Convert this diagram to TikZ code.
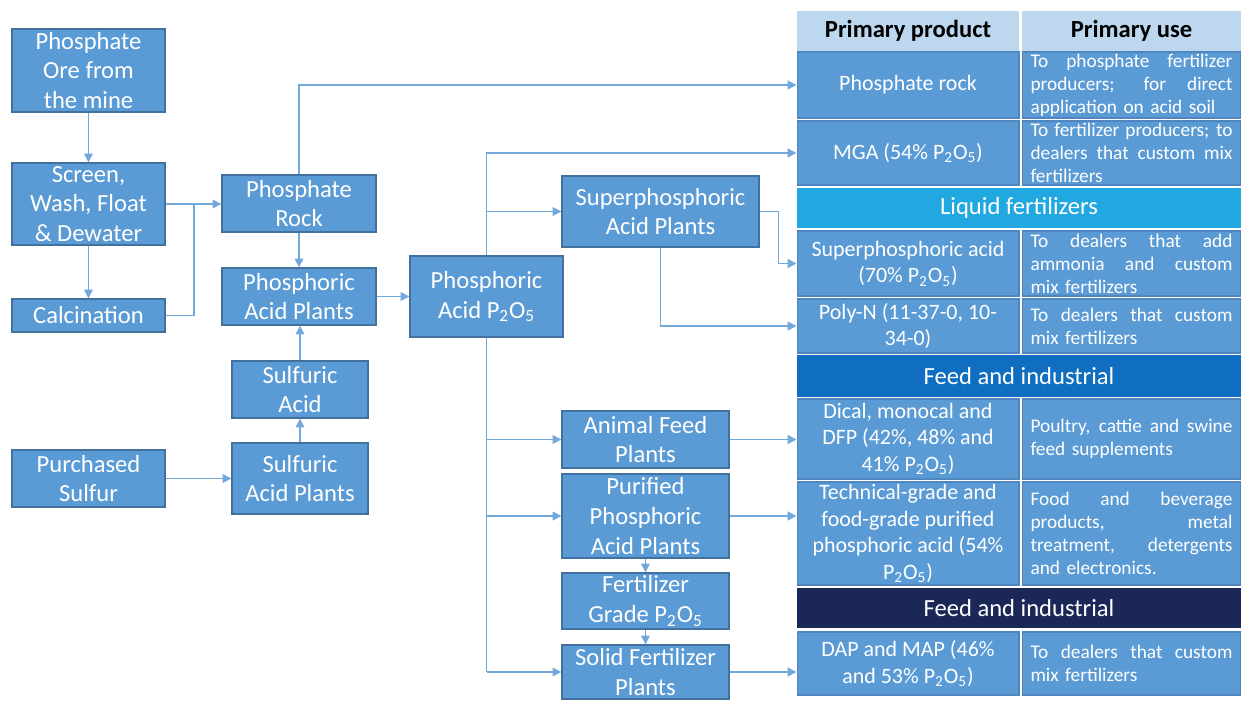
\documentclass[tikz,border=0pt]{standalone}
\usepackage{fontspec}
\setmainfont{Carlito}
\usetikzlibrary{arrows.meta}
\definecolor{boxfill}{HTML}{5B9BD5}
\definecolor{boxline}{HTML}{41719C}
\definecolor{cellline}{HTML}{4F86BF}
\definecolor{hdrfill}{HTML}{BDD7EE}
\definecolor{liqfill}{HTML}{22A8E0}
\definecolor{feedfill}{HTML}{0F6EBF}
\definecolor{navyfill}{HTML}{1B2857}
\definecolor{arrcol}{HTML}{72A8DC}
\newcommand{\pfo}{P\textsubscript{2}O\textsubscript{5}}
\newcommand{\jline}[1]{\leavevmode\hbox to 4.04cm{\spaceskip=0.25em plus 1fil\relax #1}}
\begin{document}
\begin{tikzpicture}[x=0.02cm,y=-0.02cm,
  box/.style={draw=boxline, line width=0.8pt, fill=boxfill, text=white, inner sep=0pt, align=center, font=\fontsize{14}{17}\selectfont},
  lcell/.style={draw=cellline, line width=0.6pt, fill=boxfill, text=white, inner sep=0pt, align=center, minimum width=4.44cm, font=\fontsize{12.5}{15.2}\selectfont},
  rcell/.style={draw=cellline, line width=0.6pt, fill=boxfill, text=white, inner sep=0pt, align=left, text width=4.04cm, minimum width=4.38cm, font=\fontsize{11}{13.1}\selectfont},
  band/.style={fill=#1, text=white, inner sep=0pt, minimum width=8.88cm, font=\fontsize{14}{17}\selectfont},
  hdr/.style={fill=hdrfill, text=black, inner sep=0pt, minimum height=0.8cm, font=\bfseries\fontsize{14}{17}\selectfont},
  arr/.style={draw=arrcol, line width=0.9pt, -{Triangle[length=5pt,width=5pt]}},
  ln/.style={draw=arrcol, line width=0.9pt}]
\useasboundingbox (0,0) rectangle (1241,700);
\clip (0,0) rectangle (1241,700);

% left flow boxes
\node[box, minimum width=3.06cm, minimum height=1.66cm] (ore) at (88.5,70.5) {Phosphate\\Ore from\\the mine};
\node[box, minimum width=3.06cm, minimum height=1.64cm] (scr) at (88.5,204) {Screen,\\Wash, Float\\\& Dewater};
\node[box, minimum width=3.06cm, minimum height=0.66cm] (calc) at (88.5,315.5) {Calcination};
\node[box, minimum width=3.06cm, minimum height=1.14cm] (ps) at (88.5,478.5) {Purchased\\Sulfur};
\node[box, minimum width=3.08cm, minimum height=1.14cm] (prock) at (299,203.5) {Phosphate\\Rock};
\node[box, minimum width=3.08cm, minimum height=1.14cm] (pap) at (299,296.5) {Phosphoric\\Acid Plants};
\node[box, minimum width=2.72cm, minimum height=1.14cm] (sa) at (300,389.5) {Sulfuric\\Acid};
\node[box, minimum width=2.72cm, minimum height=1.42cm] (sap) at (300,478.5) {Sulfuric\\Acid Plants};
\node[box, minimum width=3.06cm, minimum height=1.62cm] (pa) at (486.5,296.5) {Phosphoric\\Acid \pfo};
\node[box, minimum width=3.94cm, minimum height=1.42cm] (spa) at (660.5,211.5) {Superphosphoric\\Acid Plants};
\node[box, minimum width=3.34cm, minimum height=1.14cm] (afp) at (645.5,439.5) {Animal Feed\\Plants};
\node[box, minimum width=3.34cm, minimum height=1.68cm] (pur) at (645.5,516) {Purified\\Phosphoric\\Acid Plants};
\node[box, minimum width=3.34cm, minimum height=1.12cm] (fg) at (645.5,601) {Fertilizer\\Grade \pfo};
\node[box, minimum width=3.34cm, minimum height=1.08cm] (sfp) at (645.5,672) {Solid Fertilizer\\Plants};

% table
\node[hdr, minimum width=4.44cm] (h1) at (908,31) {Primary product};
\node[hdr, minimum width=4.38cm] (h2) at (1131.5,31) {Primary use};

\node[lcell, minimum height=1.32cm] (prc) at (908,85) {Phosphate rock};
\node[rcell, minimum height=1.32cm] (pru) at (1131.5,85) {\jline{To phosphate fertilizer}\\\jline{producers; for direct}\\application on acid soil};

\node[lcell, minimum height=1.28cm] (mga) at (908,153) {MGA (54\% \pfo)};
\node[rcell, minimum height=1.28cm] (mgau) at (1131.5,153) {\jline{To fertilizer producers; to}\\\jline{dealers that custom mix}\\fertilizers};

\node[band=liqfill, minimum height=0.8cm] (liq) at (1019,208) {Liquid fertilizers};

\node[lcell, minimum height=1.3cm] (sac) at (908,263.5) {Superphosphoric acid\\(70\% \pfo)};
\node[rcell, minimum height=1.3cm] (sacu) at (1131.5,263.5) {\jline{To dealers that add}\\\jline{ammonia and custom}\\mix fertilizers};

\node[lcell, minimum height=1.08cm] (pn) at (908,326) {Poly-N (11-37-0, 10-\\34-0)};
\node[rcell, minimum height=1.08cm] (pnu) at (1131.5,326) {\jline{To dealers that custom}\\mix fertilizers};

\node[band=feedfill, minimum height=0.84cm] (feed) at (1019,376) {Feed and industrial};

\node[lcell, minimum height=1.6cm] (dic) at (908,439) {Dical, monocal and\\DFP (42\%, 48\% and\\41\% \pfo)};
\node[rcell, minimum height=1.6cm] (dicu) at (1131.5,439) {\jline{Poultry, cattie and swine}\\feed supplements};

\node[lcell, minimum height=2.06cm] (tec) at (908,533.5) {Technical-grade and\\food-grade purified\\phosphoric acid (54\%\\\pfo)};
\node[rcell, minimum height=2.06cm] (tecu) at (1131.5,533.5) {\jline{Food and beverage}\\\jline{products, metal}\\\jline{treatment, detergents}\\and electronics.};

\node[band=navyfill, minimum height=0.8cm] (feed2) at (1019,608) {Feed and industrial};

\node[lcell, minimum height=1.26cm] (dap) at (908,663.5) {DAP and MAP (46\%\\and 53\% \pfo)};
\node[rcell, minimum height=1.26cm] (dapu) at (1131.5,663.5) {\jline{To dealers that custom}\\mix fertilizers};

% connectors
\coordinate (jn) at (194,204);
\draw[arr] (ore) -- (scr);
\draw[arr] (scr) -- (calc);
\draw[arr] (scr.east) -- (scr.east -| prock.west);
\draw[ln] (calc.east) -| (jn);
\draw[arr] (prock.north) |- (prc.west);
\draw[arr] (prock) -- (pap);
\draw[arr] (pap.east) -- (pap.east -| pa.west);
\draw[arr] (sa.north) -- (sa.north |- pap.south);
\draw[arr] (sap) -- (sa);
\draw[arr] (ps.east) -- (ps.east -| sap.west);
\draw[arr] (pa.north) |- (mga.west);
\draw[arr] (pa.north |- spa.west) -- (spa.west);
\draw[ln] (pa.south) -- (pa.south |- sfp.west);
\draw[arr] (pa.south |- afp.west) -- (afp.west);
\draw[arr] (pa.south |- pur.west) -- (pur.west);
\draw[arr] (pa.south |- sfp.west) -- (sfp.west);
\draw[arr] (spa.east) -- ++(19,0) |- (sac.west);
\draw[arr] (spa.south) |- (pn.west);
\draw[arr] (afp.east) -- (afp.east -| dic.west);
\draw[arr] (pur.east) -- (pur.east -| tec.west);
\draw[arr] (pur) -- (fg);
\draw[arr] (fg) -- (sfp);
\draw[arr] (sfp.east) -- (sfp.east -| dap.west);
\end{tikzpicture}
\end{document}
